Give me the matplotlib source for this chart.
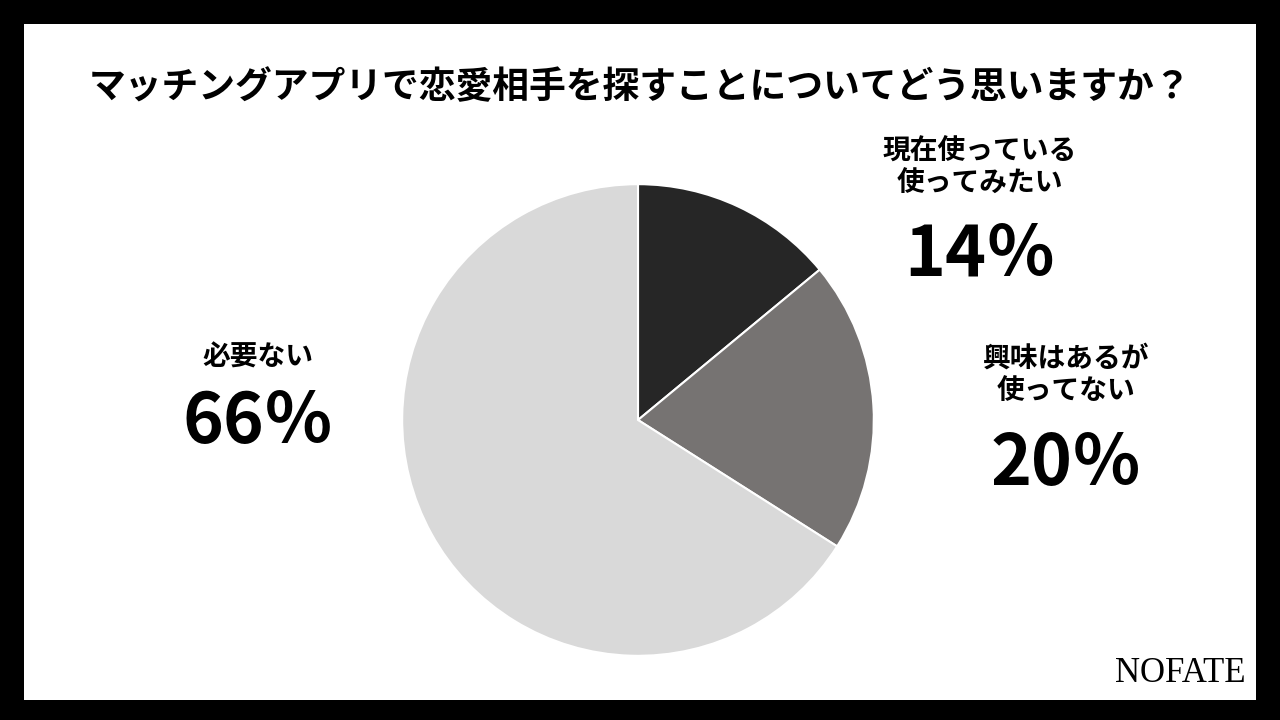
import matplotlib
matplotlib.use("Agg")
import matplotlib.pyplot as plt
from matplotlib.patches import Rectangle

plt.rcParams['font.family'] = ['Noto Sans CJK JP', 'DejaVu Sans']

title = "マッチングアプリで恋愛相手を探すことについてどう思いますか？"
labels = ["現在使っている\n使ってみたい", "興味はあるが\n使ってない", "必要ない"]
values = [14, 20, 66]
colors = ["#262626", "#767372", "#d9d9d9"]

fig = plt.figure(figsize=(12.8, 7.2), dpi=100)
fig.patch.set_facecolor("black")
fig.add_artist(Rectangle((24/1280, 20/720), 1232/1280, 676/720, transform=fig.transFigure,
                         facecolor="white", edgecolor="none", zorder=-10))

cx, cy, r = 638, 420, 237
ax = fig.add_axes([(cx - r)/1280, 1 - (cy + r)/720, 2*r/1280, 2*r/720])
ax.set_zorder(5)
ax.pie(values, colors=colors, startangle=90, counterclock=False,
       wedgeprops=dict(edgecolor="white", linewidth=1.5))
ax.set_xlim(-1.005, 1.005)
ax.set_ylim(-1.005, 1.005)
ax.set_aspect("equal")

fig.text(640/1280, 1 - 88/720, title, ha="center", va="center", fontsize=26.5, fontweight="bold")

def lab(x, y1, y2, text, pct):
    fig.text(x/1280, 1 - y1/720, text, ha="center", va="center", fontsize=20, fontweight="bold", linespacing=1.2)
    fig.text(x/1280, 1 - y2/720, f"{pct}％", ha="center", va="center", fontsize=50, fontweight="bold")

lab(980, 168, 255, labels[0], values[0])
lab(1066, 375, 465, labels[1], values[1])
fig.text(258/1280, 1 - 358/720, labels[2], ha="center", va="center", fontsize=20, fontweight="bold")
fig.text(258/1280, 1 - 423/720, f"{values[2]}％", ha="center", va="center", fontsize=50, fontweight="bold")

fig.text(1180/1280, 1 - 673/720, "NOFATE", ha="center", va="center", fontsize=25,
         family="Liberation Serif")

fig.savefig("out.png", dpi=100, facecolor=fig.get_facecolor())
